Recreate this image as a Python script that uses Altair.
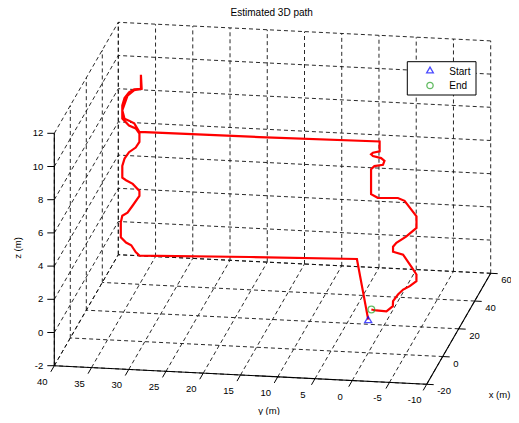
import altair as alt
import pandas as pd

# ---------------- data (metres) ----------------
path_x = [0, 38, 38, 38, 38, 38, 38, 38, 38, 38, 38, 38, 38, 38, 38, 38, 38, 38, 38, 38,
          38, 38, 38, 38, 38, 38, 38, 38, 38, 38, 38, 38, 38, 38, 38, 38, 38, 38, 38, 38,
          38, 38, 38, 38, 38, 38, 38, 38, 38, 38, 38, 38, 38, 38, 38, 38, 38, 38, 38, 38,
          38, 38, 38, 33.3, 28.6, 24.9, 22.3, 18.6, 13.8, 10.3, 6.5, 6.7, 7.2]
path_y = [0, 5.6, 20.0, 34.8, 35.3, 35.9, 36.6, 37.3, 37.3, 37.1, 36.4, 35.7, 34.8, 34.8,
          35.7, 36.6, 37.1, 37.1, 36.8, 36.2, 35.3, 34.8, 34.8, 35.3, 36.2, 37.1, 37.1, 36.8,
          36.2, 35.5, 34.6, 34.6, 34.5, 35.5, 36.4, 37.1, 36.8, 36.2, 35.5, 34.8, 18.7, 2.55,
          2.55, 3.45, 3.7, 3.45, 2.35, 1.9, 2.1, 3.25, 3.7, 3.7, 2.8, 0.1, -0.8, -2.4, -2.4,
          -1.0, 0.3, 0.75, 0.75, -0.6, -1.7, -2.9, -3.4, -2.9, -2.3, -2.0, -1.85, -2.2, -1.75,
          -0.35, 0.35]
path_z = [0, 0.35, 0.15, -0.1, 0.1, 0.5, 0.65, 0.95, 1.85, 2.25, 2.45, 2.9, 3.5, 3.8,
          4.2, 4.4, 4.55, 5.25, 5.7, 6.1, 6.4, 6.75, 7.25, 7.55, 7.7, 8.1, 8.9, 9.35,
          9.7, 9.9, 9.95, 10.8, 9.95, 9.85, 9.5, 8.6, 8.1, 8.0, 7.85, 7.35, 7.4, 7.5,
          6.9, 6.8, 6.7, 6.6, 6.5, 6.35, 6.1, 6.0, 5.8, 4.3, 4.1, 4.15, 4.0, 3.1, 2.4,
          1.85, 1.45, 1.2, 0.9, 0.75, 0.05, 0, 0, 0, 0, 0, 0, 0, 0, 0, 0]
start_pt = [0.0, 0.0, 0.0]
end_pt = [7.2, 0.35, 0.0]
x_ticks = [-20, 0, 20, 40, 60]
y_ticks = [40, 35, 30, 25, 20, 15, 10, 5, 0, -5, -10]
z_ticks = [-2, 0, 2, 4, 6, 8, 10, 12]
legend_labels = ["Start", "End"]
title_text = "Estimated 3D path"

# ---------------- view: orthographic projection ----------------
W, H = 503, 407
X0, X1 = -20, 60
Y0, Y1 = -10, 40
Z0, Z1 = -2, 12
ORIGIN = (46.3, 357.7)     # screen position of corner (x=-20, y=40, z=-2)
UX = (0.8, -1.3875)        # screen shift per metre of x
UY = (-7.448, -0.372)      # per metre of y
UZ = (0.0, -16.6)          # per metre of z


def proj(x, y, z):
    sx = ORIGIN[0] + (x - X0) * UX[0] + (y - Y1) * UY[0] + (z - Z0) * UZ[0]
    sy = ORIGIN[1] + (x - X0) * UX[1] + (y - Y1) * UY[1] + (z - Z0) * UZ[1]
    return sx, sy


def seg(p, q):
    a = proj(*p)
    b = proj(*q)
    return {"sx": a[0], "sy": a[1], "sx2": b[0], "sy2": b[1]}


xs = alt.Scale(domain=[0, W], nice=False, zero=False)
ys = alt.Scale(domain=[0, H], nice=False, zero=False, reverse=True)
FONT = "Liberation Sans"


def enc_pt(chart):
    return chart.encode(
        x=alt.X("sx:Q", scale=xs, axis=None),
        y=alt.Y("sy:Q", scale=ys, axis=None),
    )


def enc_seg(chart):
    return chart.encode(
        x=alt.X("sx:Q", scale=xs, axis=None),
        y=alt.Y("sy:Q", scale=ys, axis=None),
        x2="sx2:Q",
        y2="sy2:Q",
    )


# grid on the three back planes
grid = []
for yv in y_ticks:
    grid.append(seg((X0, yv, Z0), (X1, yv, Z0)))
    grid.append(seg((X1, yv, Z0), (X1, yv, Z1)))
for xv in x_ticks:
    grid.append(seg((xv, Y0, Z0), (xv, Y1, Z0)))
    grid.append(seg((xv, Y1, Z0), (xv, Y1, Z1)))
for zv in z_ticks:
    grid.append(seg((X1, Y0, zv), (X1, Y1, zv)))
    grid.append(seg((X0, Y1, zv), (X1, Y1, zv)))
grid_df = pd.DataFrame(grid)

# axis lines
axes_df = pd.DataFrame([
    seg((X0, Y1, Z0), (X0, Y0, Z0)),
    seg((X0, Y0, Z0), (X1, Y0, Z0)),
    seg((X0, Y1, Z0), (X0, Y1, Z1)),
])

# ticks and tick labels
ticks = []
lab_z, lab_y, lab_x = [], [], []
for zv in z_ticks:
    sx, sy = proj(X0, Y1, zv)
    ticks.append({"sx": sx, "sy": sy, "sx2": sx - 7, "sy2": sy})
    lab_z.append({"sx": sx - 11, "sy": sy, "t": str(zv)})
for yv in y_ticks:
    sx, sy = proj(X0, yv, Z0)
    ticks.append({"sx": sx, "sy": sy, "sx2": sx - 3.5, "sy2": sy + 6.1})
    lab_y.append({"sx": sx - 12, "sy": sy + 16, "t": str(yv)})
for xv in x_ticks:
    sx, sy = proj(xv, Y0, Z0)
    ticks.append({"sx": sx, "sy": sy, "sx2": sx + 7, "sy2": sy + 0.35})
    lab_x.append({"sx": sx + 10.5, "sy": sy + 7, "t": str(xv)})
ticks_df = pd.DataFrame(ticks)

# path
pts = [proj(x, y, z) for x, y, z in zip(path_x, path_y, path_z)]
path_df = pd.DataFrame({"sx": [p[0] for p in pts], "sy": [p[1] for p in pts],
                        "i": list(range(len(pts)))})
s_pt = proj(*start_pt)
e_pt = proj(*end_pt)
start_df = pd.DataFrame({"sx": [s_pt[0]], "sy": [s_pt[1]]})
end_df = pd.DataFrame({"sx": [e_pt[0]], "sy": [e_pt[1]]})

one = pd.DataFrame({"k": [0]})

layers = []
layers.append(enc_seg(alt.Chart(grid_df).mark_rule(
    color="#111111", strokeWidth=0.9, strokeDash=[4, 3])))
layers.append(enc_seg(alt.Chart(axes_df).mark_rule(color="black", strokeWidth=1.1)))
layers.append(enc_seg(alt.Chart(ticks_df).mark_rule(color="black", strokeWidth=1)))
layers.append(enc_pt(alt.Chart(pd.DataFrame(lab_z)).mark_text(
    align="right", baseline="middle", font=FONT, fontSize=9.5, color="black")).encode(text="t:N"))
layers.append(enc_pt(alt.Chart(pd.DataFrame(lab_y)).mark_text(
    align="center", baseline="middle", font=FONT, fontSize=9.5, color="black")).encode(text="t:N"))
layers.append(enc_pt(alt.Chart(pd.DataFrame(lab_x)).mark_text(
    align="left", baseline="middle", font=FONT, fontSize=9.5, color="black")).encode(text="t:N"))
# axis titles
layers.append(alt.Chart(one).mark_text(text="y (m)", font=FONT, fontSize=9.5,
                                       align="center", baseline="middle").encode(
    x=alt.value(261), y=alt.value(402.5)))
layers.append(alt.Chart(one).mark_text(text="x (m)", font=FONT, fontSize=9.5,
                                       align="center", baseline="middle").encode(
    x=alt.value(491.5), y=alt.value(387)))
layers.append(alt.Chart(one).mark_text(text="z (m)", font=FONT, fontSize=9.5, angle=270,
                                       align="center", baseline="middle").encode(
    x=alt.value(10.3), y=alt.value(240)))
layers.append(alt.Chart(one).mark_text(text=title_text, font=FONT, fontSize=10,
                                       align="center", baseline="middle").encode(
    x=alt.value(263.7), y=alt.value(4.5)))
# path and markers
layers.append(enc_pt(alt.Chart(path_df).mark_line(color="red", strokeWidth=2.2)).encode(
    order="i:Q"))
layers.append(enc_pt(alt.Chart(start_df).mark_point(
    shape="triangle-up", filled=False, color="blue", size=50, strokeWidth=1.3)))
layers.append(enc_pt(alt.Chart(end_df).mark_point(
    shape="circle", filled=False, color="#22a022", size=45, strokeWidth=1.3)))
# legend box
layers.append(alt.Chart(one).mark_rect(fill="white", stroke="black", strokeWidth=1).encode(
    x=alt.value(399.3), x2=alt.value(468), y=alt.value(53.7), y2=alt.value(87)))
layers.append(alt.Chart(one).mark_point(shape="triangle-up", filled=False, color="blue",
                                        size=45, strokeWidth=1.3).encode(
    x=alt.value(422), y=alt.value(62)))
layers.append(alt.Chart(one).mark_point(shape="circle", filled=False, color="#22a022",
                                        size=40, strokeWidth=1.3).encode(
    x=alt.value(422), y=alt.value(77.5)))
layers.append(alt.Chart(one).mark_text(text=legend_labels[0], font=FONT, fontSize=10,
                                       align="left", baseline="middle").encode(
    x=alt.value(441.3), y=alt.value(63.5)))
layers.append(alt.Chart(one).mark_text(text=legend_labels[1], font=FONT, fontSize=10,
                                       align="left", baseline="middle").encode(
    x=alt.value(441.3), y=alt.value(78)))

chart = alt.layer(*layers).properties(
    width=W, height=H, padding=0,
    autosize=alt.AutoSizeParams(type="none"),
    background="white",
).configure_view(strokeWidth=0)

chart.save("out.html", embed_options={"renderer": "svg", "actions": False})
